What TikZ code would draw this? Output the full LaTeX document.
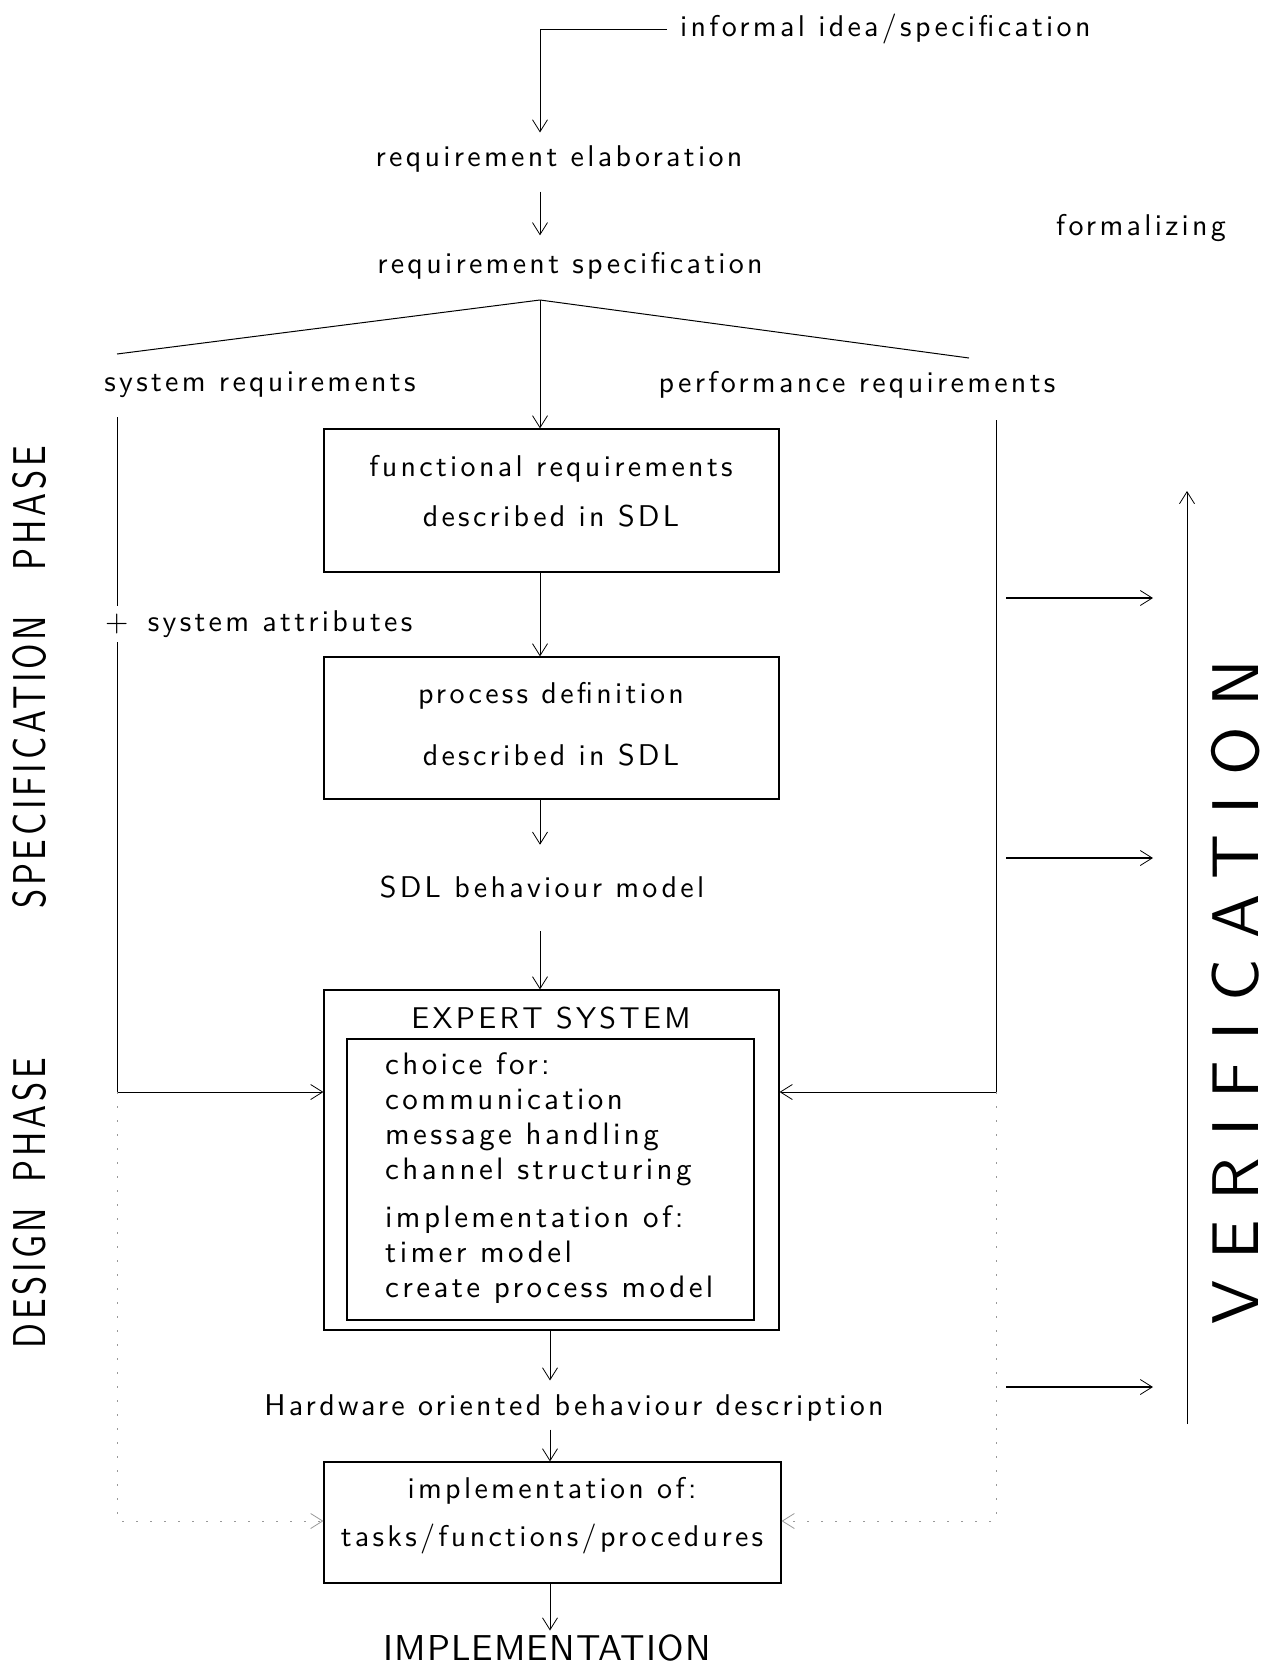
\documentclass[tikz,border=0pt]{standalone}
\usepackage{graphicx}
\usepackage{fontspec}
\setmainfont{lmsans10-regular.otf}[LetterSpace=11]
\usetikzlibrary{arrows.meta}
\begin{document}
\begin{tikzpicture}[x=1pt,y=-1pt,
  every node/.style={inner sep=0pt},
  txt/.style={font=\fontsize{30}{35}\selectfont},
  box/.style={draw, line width=1.2pt},
  ln/.style={line width=0.8pt},
  tip/.style={-{Straight Barb[length=12pt,width=15pt,line width=0.8pt]}},
  conn/.style={ln, tip},
  faint/.style={ln, tip, black!40, dash pattern=on 2pt off 12pt},
  phase/.style={rotate=90, font=\fontsize{46}{50}\selectfont}
]
\useasboundingbox (0,0) rectangle (1275,1666);

% ---- texts of the upper part
\node[txt, anchor=west] (informal) at (680,29) {informal idea/specification};
\node[txt] (elab) at (559,159) {requirement elaboration};
\node[txt] (spec) at (570,266) {requirement specification};
\node[txt] (formal) at (1141,228) {formalizing};
\node[txt] (sysreq) at (260,385) {system requirements};
\node[txt] (perfreq) at (857,385) {performance requirements};
\node[txt, anchor=west] (attr) at (105,624) {+\hspace{6pt} system attributes};
\node[txt] (sdl) at (542,887) {SDL behaviour model};
\node[txt] (hw) at (574,1408) {Hardware oriented behaviour description};
\node[font=\fontsize{36}{40}\selectfont\addfontfeatures{LetterSpace=3}] (implab) at (547,1648) {IMPLEMENTATION};

% ---- boxes
\node[box, minimum width=455pt, minimum height=143pt] (fr) at (551.5,500.5) {};
\node[txt] (fr1) at (551,469) {functional requirements};
\node[txt] (fr2) at (551,516) {described in SDL};

\node[box, minimum width=455pt, minimum height=142pt] (pd) at (551.5,728) {};
\node[txt] (pd1) at (551,696) {process definition};
\node[txt] (pd2) at (551,755) {described in SDL};

\node[box, minimum width=455pt, minimum height=340pt] (ex) at (551.5,1160) {};
\node[txt] (exttl) at (551,1018) {EXPERT SYSTEM};
\node[box, minimum width=407pt, minimum height=281pt] (exin) at (550.5,1179.5) {};
\node[txt, align=left, anchor=north west, font=\fontsize{31}{35}\selectfont] (choice) at (385,1052)
  {choice for:\\communication\\message handling\\channel structuring\\[13pt]implementation of:\\timer model\\create process model};

\node[box, minimum width=457pt, minimum height=121pt] (im) at (552.5,1522.5) {};
\node[txt] (im1) at (552,1491) {implementation of:};
\node[txt] (im2) at (552,1539) {tasks/functions/procedures};

% ---- phase labels
\node[phase] (specph) at (30,677.5) {\scalebox{0.75}[1]{SPECIFICATION\hspace{60pt}PHASE}};
\node[phase] (desph) at (30,1203) {\scalebox{0.75}[1]{DESIGN\hspace*{34pt}PHASE}};
\node[rotate=90, font=\fontsize{66}{70}\selectfont\addfontfeatures{LetterSpace=31}] (verif) at (1236,992) {VERIFICATION};

% ---- main flow
\coordinate (top) at (540,29);
\coordinate (apex) at (540,300);
\coordinate (lend) at (117,354);
\coordinate (rend) at (969,358);
\coordinate (colB) at (550,1400);

\draw[conn] ([xshift=-13pt]informal.west) -- (top) -- ([yshift=13pt]elab.north -| top);
\draw[conn, shorten <=19pt, shorten >=17pt] (elab.south -| top) -- (spec.north -| top);
\draw[line width=1pt] (lend) -- (apex) -- (rend);
\draw[conn] (apex) -- (fr.north -| apex);
\draw[conn] (fr.south -| apex) -- (pd.north -| apex);
\draw[conn, shorten >=31pt] (pd.south -| apex) -- (sdl.north -| apex);
\draw[conn, shorten <=33pt] (sdl.south -| apex) -- (ex.north -| apex);
\draw[conn, shorten >=14pt] (ex.south -| colB) -- (hw.north -| colB);
\draw[conn, shorten <=8pt] (hw.south -| colB) -- (im.north -| colB);
\draw[conn, shorten >=4pt] (im.south -| colB) -- (implab.north -| colB);

% ---- system requirements branch (left)
\coordinate (l0) at (117,417);
\coordinate (l1) at (117,606);
\coordinate (l2) at (117,642);
\coordinate (jl) at (117,1092);
\coordinate (jlb) at (117,1521);
\draw[ln] (l0) -- (l1);
\draw[conn] (l2) -- (jl) -- (jl -| ex.west);
\draw[faint] (jl) -- (jlb) -- (jlb -| im.west);

% ---- performance requirements branch (right)
\coordinate (r0) at (996,420);
\coordinate (jr) at (996,1092);
\coordinate (jrb) at (996,1521);
\draw[conn] (r0) -- (jr) -- (jr -| ex.east);
\draw[faint] (jr) -- (jrb) -- (jrb -| im.east);

% ---- verification
\coordinate (v1s) at (1006,598);  \coordinate (v1e) at (1153,598);
\coordinate (v2s) at (1006,858);  \coordinate (v2e) at (1153,858);
\coordinate (v3s) at (1006,1387); \coordinate (v3e) at (1153,1387);
\draw[conn, line width=1.1pt] (v1s) -- (v1e);
\draw[conn, line width=1.1pt] (v2s) -- (v2e);
\draw[conn, line width=1.1pt] (v3s) -- (v3e);
\coordinate (vb) at (1187,1424);
\coordinate (vt) at (1187,491);
\draw[conn] (vb) -- (vt);
\end{tikzpicture}
\end{document}
